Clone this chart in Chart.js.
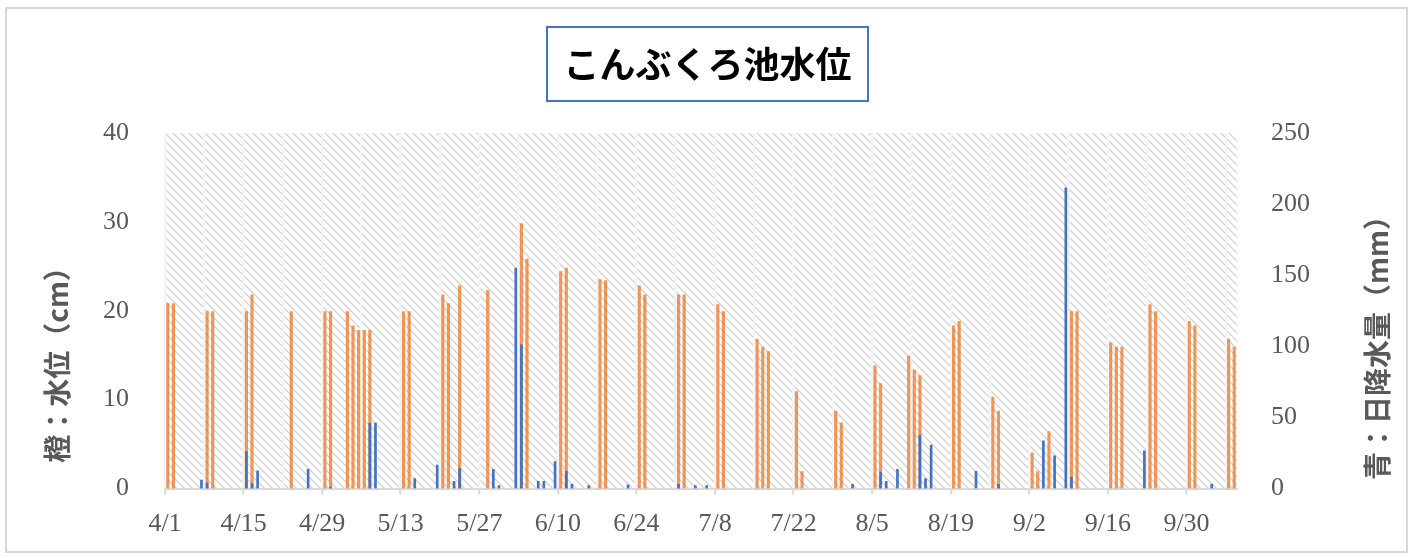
<!DOCTYPE html>
<html>
<head>
<meta charset="utf-8">
<script src="https://cdn.jsdelivr.net/npm/chart.js@4"></script>
<style>
  html, body { margin: 0; padding: 0; background: #fff; }
</style>
</head>
<body>
<canvas id="c" width="1413" height="558"></canvas>
<script>
// days 4/1 .. 10/8
const categories = [];
for (let d = new Date(2021, 3, 1); d <= new Date(2021, 9, 8); d.setDate(d.getDate() + 1)) {
  categories.push((d.getMonth() + 1) + "/" + d.getDate());
}
const tickLabels = ["4/1", "4/15", "4/29", "5/13", "5/27", "6/10", "6/24", "7/8", "7/22", "8/5", "8/19", "9/2", "9/16", "9/30"];

// water level (cm), left axis
const levelDates = ["4/1", "4/2", "4/8", "4/9", "4/15", "4/16", "4/23", "4/29", "4/30", "5/3", "5/4", "5/5", "5/6", "5/7",
  "5/13", "5/14", "5/20", "5/21", "5/23", "5/28", "6/3", "6/4", "6/10", "6/11", "6/17", "6/18", "6/24", "6/25",
  "7/1", "7/2", "7/8", "7/9", "7/15", "7/16", "7/17", "7/22", "7/23", "7/29", "7/30", "8/5", "8/6", "8/11", "8/12", "8/13",
  "8/19", "8/20", "8/26", "8/27", "9/2", "9/3", "9/5", "9/9", "9/10", "9/16", "9/17", "9/18", "9/23", "9/24",
  "9/30", "10/1", "10/7", "10/8"];
const levelValues = [20.8, 20.8, 19.9, 19.9, 19.9, 21.8, 19.9, 19.9, 19.9, 19.9, 18.3, 17.8, 17.8, 17.8,
  19.9, 19.9, 21.8, 20.8, 22.8, 22.3, 29.8, 25.8, 24.4, 24.8, 23.5, 23.4, 22.8, 21.8,
  21.8, 21.8, 20.7, 19.9, 16.8, 15.9, 15.4, 10.9, 1.9, 8.7, 7.4, 13.8, 11.8, 14.9, 13.3, 12.7,
  18.3, 18.8, 10.3, 8.7, 4.0, 1.9, 6.4, 19.9, 19.9, 16.4, 15.9, 15.9, 20.7, 19.9,
  18.8, 18.3, 16.8, 15.9];

// daily rainfall (mm), right axis
const rainDates = ["4/7", "4/8", "4/15", "4/16", "4/17", "4/26", "4/30", "5/7", "5/8", "5/15", "5/19", "5/22", "5/23",
  "5/29", "5/30", "6/2", "6/3", "6/6", "6/7", "6/9", "6/11", "6/12", "6/15", "6/22", "7/1", "7/4", "7/6",
  "8/1", "8/6", "8/7", "8/9", "8/13", "8/14", "8/15", "8/23", "8/27", "9/4", "9/6", "9/8", "9/9", "9/22", "10/4"];
const rainValues = [6, 4, 26, 3.5, 12.5, 13.5, 1, 46, 46, 7, 16.5, 5, 14,
  13.5, 2, 155, 101, 5, 5, 19, 12, 3, 2, 2.5, 3, 2, 2,
  3, 11.5, 5, 13.5, 37.5, 7, 30.5, 12, 3, 33.5, 23, 211.5, 8, 26.5, 3];

const levelData = categories.map((c) => (levelDates.includes(c) ? levelValues[levelDates.indexOf(c)] : null));
const rainData = categories.map((c) => (rainDates.includes(c) ? rainValues[rainDates.indexOf(c)] : null));

const grey = "#595959";
const serif = { family: "'Liberation Serif', serif", size: 26 };
const gothic = "bold 28px 'Noto Sans CJK JP', sans-serif";

const frame = {
  id: "frame",
  beforeDraw(chart) {
    const ctx = chart.ctx;
    const a = chart.chartArea;
    ctx.save();
    ctx.fillStyle = "#fff";
    ctx.fillRect(0, 0, chart.width, chart.height);
    ctx.strokeStyle = "#d9d9d9";
    ctx.lineWidth = 2;
    ctx.strokeRect(6, 8, 1401, 544);

    // hatched plot background
    const p = document.createElement("canvas");
    p.width = 8;
    p.height = 8;
    const pc = p.getContext("2d");
    pc.strokeStyle = "#d2d2d2";
    pc.lineWidth = 1.3;
    pc.beginPath();
    pc.moveTo(-1, -1); pc.lineTo(9, 9);
    pc.moveTo(-1, 7); pc.lineTo(1, 9);
    pc.moveTo(7, -1); pc.lineTo(9, 1);
    pc.stroke();
    ctx.fillStyle = ctx.createPattern(p, "repeat");
    ctx.fillRect(a.left, a.top, a.right - a.left, a.bottom - a.top);

    // title box
    ctx.strokeStyle = "#4472C4";
    ctx.lineWidth = 2;
    ctx.strokeRect(547, 27, 321, 74);
    ctx.fillStyle = "#000";
    ctx.font = "bold 36px 'Noto Sans CJK JP', sans-serif";
    ctx.textAlign = "center";
    ctx.textBaseline = "middle";
    ctx.fillText("こんぶくろ池水位", 707.5, 64);

    // axis titles, both read bottom to top
    ctx.fillStyle = grey;
    ctx.font = gothic;
    ctx.translate(57, 358);
    ctx.rotate(-Math.PI / 2);
    ctx.fillText("橙：水位（cm）", 0, 0);
    ctx.setTransform(1, 0, 0, 1, 0, 0);
    ctx.translate(1377, 341);
    ctx.rotate(-Math.PI / 2);
    ctx.fillText("青：日降水量（mm）", 0, 0);
    ctx.restore();
  },
};

new Chart(document.getElementById("c"), {
  type: "bar",
  data: {
    labels: categories,
    datasets: [
      {
        label: "日降水量",
        data: rainData,
        yAxisID: "y2",
        backgroundColor: "#4472C4",
        barThickness: 2,
        grouped: false,
        order: 0,
      },
      {
        label: "水位",
        data: levelData,
        yAxisID: "y",
        backgroundColor: "rgba(237,125,49,0.8)",
        barThickness: 2.5,
        grouped: false,
        order: 1,
      },
    ],
  },
  options: {
    responsive: false,
    animation: false,
    devicePixelRatio: 1,
    layout: { padding: { top: 133, left: 0, right: 0, bottom: 0 } },
    plugins: { legend: { display: false }, tooltip: { enabled: false } },
    scales: {
      x: {
        offset: true,
        grid: {
          offset: true,
          color: (c) => (c.index % 7 === 0 ? "#f4f4f4" : "rgba(0,0,0,0)"),
          lineWidth: 2.5,
          drawTicks: true,
          tickLength: 6,
          tickWidth: 2,
          tickColor: (c) => (c.index % 14 === 0 ? "#d9d9d9" : "rgba(0,0,0,0)"),
        },
        border: { display: true, color: "#d9d9d9", width: 2 },
        ticks: {
          autoSkip: false,
          minRotation: 0,
          maxRotation: 0,
          labelOffset: -2.8,
          padding: 14,
          color: grey,
          font: serif,
          callback: (v, i) => (tickLabels.includes(categories[i]) ? categories[i] : ""),
        },
        afterFit: (s) => { s.height = 69.5; },
      },
      y: {
        position: "left",
        min: 0,
        max: 40,
        ticks: { stepSize: 10, padding: 28, color: grey, font: serif },
        grid: { display: false },
        border: { display: false },
        afterFit: (s) => { s.width = 165; },
      },
      y2: {
        position: "right",
        min: 0,
        max: 250,
        ticks: { stepSize: 50, padding: 26, color: grey, font: serif },
        grid: { display: false },
        border: { display: false },
        afterFit: (s) => { s.width = 176; },
      },
    },
  },
  plugins: [frame],
});
</script>
</body>
</html>
